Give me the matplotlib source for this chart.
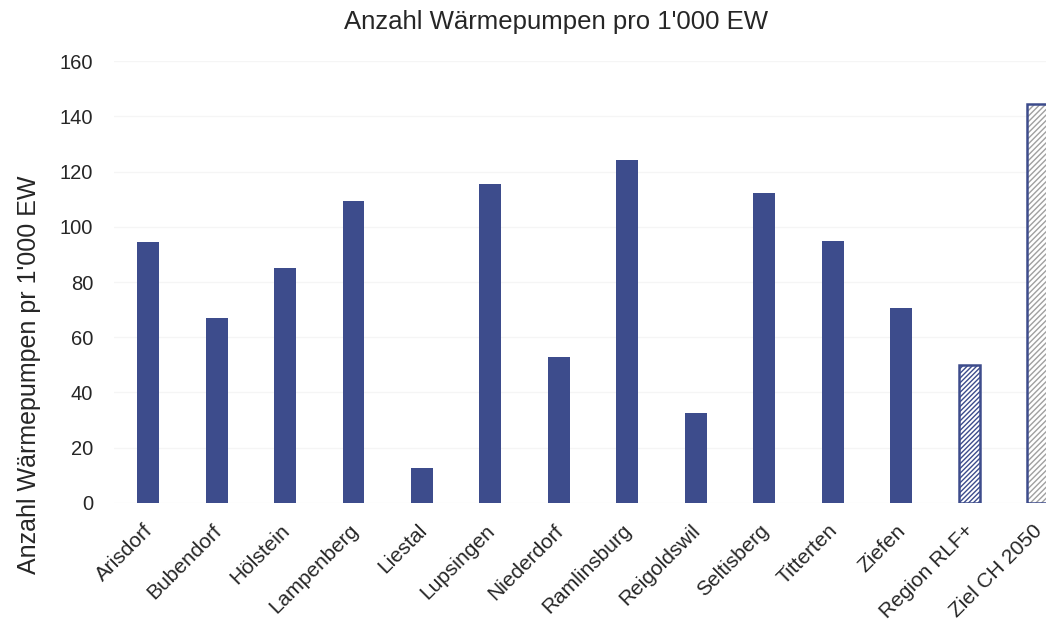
import numpy as np
import matplotlib.pyplot as plt
from matplotlib.transforms import ScaledTranslation

gemeinden = ['Arisdorf', 'Bubendorf', 'Hölstein', 'Lampenberg', 'Liestal', 'Lupsingen',
             'Niederdorf', 'Ramlinsburg', 'Reigoldswil', 'Seltisberg', 'Titterten',
             'Ziefen', 'Region RLF+', 'Ziel CH 2050']
werte = [94.5, 67, 85, 109.3, 12.7, 115.5, 52.9, 124.2, 32.6, 112.2, 94.8, 70.6, 50, 144.4]

blau = '#3d4c8c'
plt.rcParams['font.family'] = ['Liberation Sans', 'DejaVu Sans']
plt.rcParams['hatch.linewidth'] = 1.0

fig = plt.figure(figsize=(10.46, 6.24), dpi=100)
ax = fig.add_axes([0.109, 0.194, 0.916, 0.708])

x = np.arange(len(gemeinden))
# Gemeinden voll, Region und Ziel schraffiert
ax.bar(x[:12], werte[:12], width=0.32, color=blau, zorder=3)
ax.bar(x[12], werte[12], width=0.32, facecolor='white', edgecolor=blau,
       hatch='///////', linewidth=1.8, zorder=3)
ax.bar(x[13], werte[13], width=0.32, facecolor='white', edgecolor='#a0a0a0',
       hatch='//////', linewidth=0, zorder=3)
ax.bar(x[13], werte[13], width=0.32, facecolor='none', edgecolor=blau,
       linewidth=1.8, zorder=4)

ax.set_xlim(-0.5, len(gemeinden) - 0.5)
ax.set_ylim(0, 160)
ax.set_yticks(range(0, 161, 20))
ax.yaxis.grid(True, color='#f5f5f5', linewidth=1, zorder=0)
for s in ax.spines.values():
    s.set_visible(False)
ax.tick_params(axis='both', length=0, colors='#262626')
ax.tick_params(axis='y', pad=15, labelsize=14.5)
ax.set_xticks(x)
ax.set_xticklabels(gemeinden, rotation=45, ha='right', rotation_mode='anchor', fontsize=15)
ax.tick_params(axis='x', pad=13)
verschiebung = ScaledTranslation(-5 / 100, 0, fig.dpi_scale_trans)
for lab in ax.get_xticklabels():
    lab.set_transform(lab.get_transform() + verschiebung)

ax.set_ylabel("Anzahl Wärmepumpen pr 1'000 EW", fontsize=18, color='#262626')
ax.yaxis.set_label_coords(-0.076, 0.29)
fig.text(0.532, 0.965, "Anzahl Wärmepumpen pro 1'000 EW", ha='center', va='center',
         fontsize=18.5, color='#262626')

fig.savefig('out.png', dpi=100)
